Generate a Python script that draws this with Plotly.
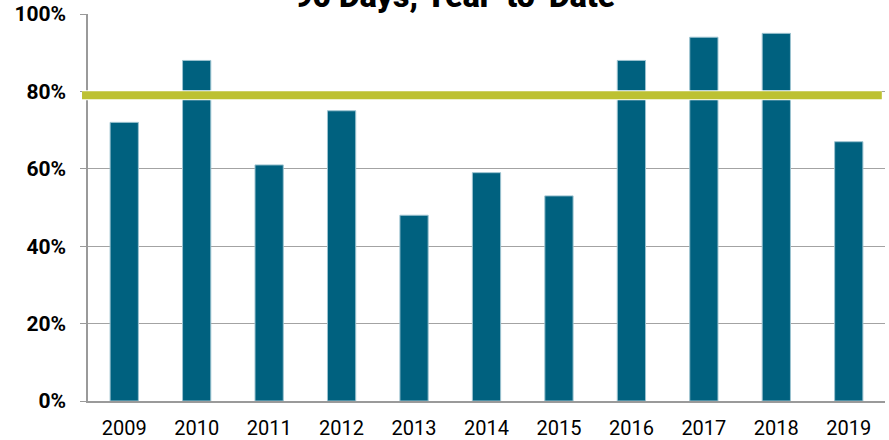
import plotly.graph_objects as go

years = ["2009", "2010", "2011", "2012", "2013", "2014", "2015", "2016", "2017", "2018", "2019"]
values = [72, 88, 61, 75, 48, 59, 53, 88, 94, 95, 67]
target = 79
y_ticks = [0, 20, 40, 60, 80, 100]
y_tick_labels = ["0%", "20%", "40%", "60%", "80%", "100%"]
title_text = "90 Days, Year-to-Date"

fig = go.Figure()
fig.add_trace(go.Bar(
    x=years, y=values,
    marker=dict(color="#00617F", line=dict(color="#9cc3d0", width=1)),
    width=0.39,
))

for col, w in [("white", 10), ("#BDC132", 8)]:
    fig.add_shape(type="line", xref="paper", yref="y", x0=-0.0075, x1=0.996,
                  y0=target, y1=target, line=dict(color=col, width=w), layer="above")

fig.add_annotation(text=title_text, xref="paper", yref="paper", x=0.46, y=1,
                   yanchor="middle", yshift=18, showarrow=False,
                   font=dict(family="Roboto", size=32, color="black", weight=900))

fig.update_layout(
    width=889, height=440,
    margin=dict(l=88, r=4, t=14, b=39),
    paper_bgcolor="white", plot_bgcolor="white",
    showlegend=False,
    font=dict(family="Roboto", color="black"),
)
fig.update_xaxes(
    showline=True, linecolor="#9a9a9a", linewidth=1.5,
    ticks="", tickfont=dict(size=20, family="Roboto"),
    ticklabelstandoff=8, showgrid=False, automargin=False,
)
fig.update_yaxes(
    range=[0, 100], tickvals=y_ticks, ticktext=y_tick_labels,
    showline=True, linecolor="#9a9a9a", linewidth=1.5,
    ticks="outside", ticklen=6, tickcolor="#9a9a9a",
    tickfont=dict(size=21, family="Roboto", weight="bold"),
    ticklabelstandoff=10, automargin=False,
    showgrid=True, gridcolor="#a3a3a3", gridwidth=1, zeroline=False,
)

fig.write_html("out.html", config={"displayModeBar": False},
               post_script="document.body.style.margin='0';")
